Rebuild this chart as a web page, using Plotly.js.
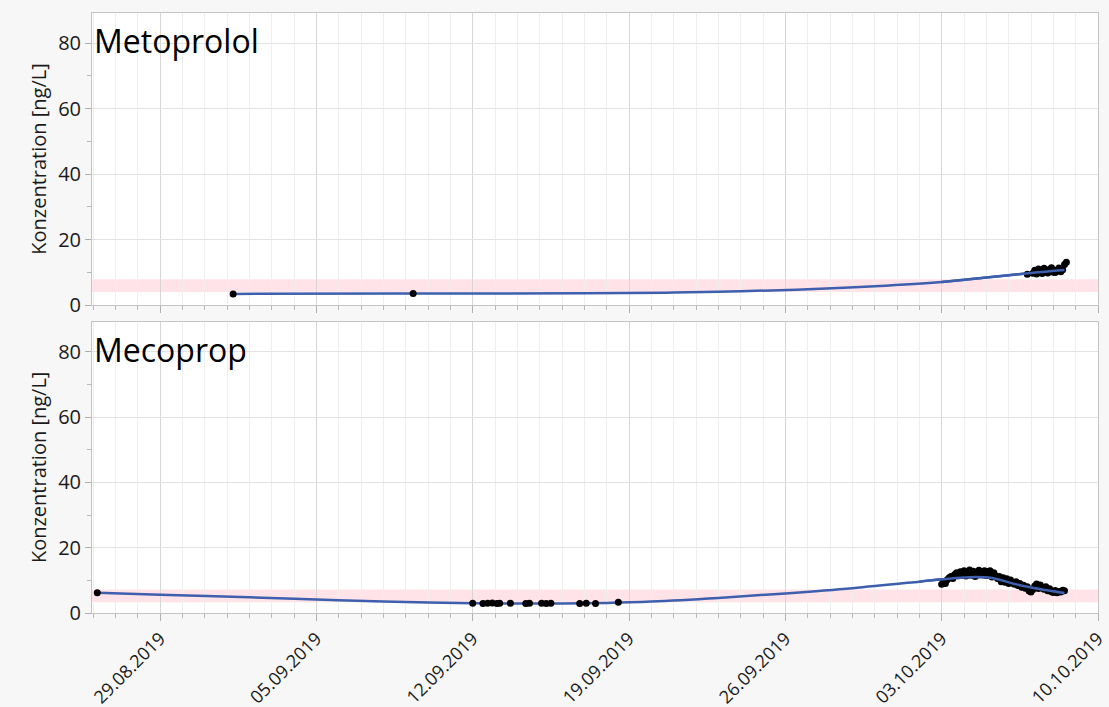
<!DOCTYPE html>
<html>
<head>
<meta charset="utf-8">
<script src="https://cdn.plot.ly/plotly-3.0.1.min.js"></script>
<style>
html,body{margin:0;padding:0;background:#f7f7f7;}
#chart{width:1109px;height:707px;}
</style>
</head>
<body>
<div id="chart"></div>
<script>
// ---------- Data ----------
const substances = ["Metoprolol", "Mecoprop"];
const yLabel = "Konzentration [ng/L]";

// Metoprolol: single samples
const metoSingleDates = ["2019-09-01 06:30", "2019-09-09 08:00", "2019-10-06 20:00"];
const metoSingleValues = [3.4, 3.5, 9.4];
// Metoprolol: dense sampling (every 2 h from 2019-10-07 02:00)
const metoDenseStart = "2019-10-07 02:00";
const metoDenseValues = [9.7, 10.6, 9.5, 11.0, 10.1, 9.6, 11.2, 10.3, 9.8, 10.9, 11.4, 10.0, 9.9, 10.7, 11.3, 10.2, 10.8, 12.4, 13.1];
// Metoprolol fit line
const metoFitDates = ["2019-09-01 06:30", "2019-09-09", "2019-09-17", "2019-09-21", "2019-09-24", "2019-09-27", "2019-09-30", "2019-10-03", "2019-10-05", "2019-10-07", "2019-10-08 12:00"];
const metoFitValues = [3.4, 3.5, 3.6, 3.8, 4.2, 4.8, 5.7, 7.0, 8.4, 9.8, 10.7];

// Mecoprop: single samples
const mecoSingleDates = ["2019-08-26 04:30", "2019-09-12 00:00", "2019-09-12 11:00", "2019-09-12 16:00", "2019-09-12 21:00", "2019-09-13 02:00", "2019-09-13 05:00", "2019-09-13 16:30", "2019-09-14 09:00", "2019-09-14 13:00", "2019-09-15 02:00", "2019-09-15 07:00", "2019-09-15 12:00", "2019-09-16 19:00", "2019-09-17 02:00", "2019-09-17 12:00", "2019-09-18 12:30"];
const mecoSingleValues = [6.2, 3.0, 2.9, 3.0, 3.1, 2.9, 3.0, 3.0, 2.9, 3.0, 3.0, 2.9, 3.0, 2.9, 3.0, 2.9, 3.3];
// Mecoprop: dense sampling (every 2 h from 2019-10-03 00:00)
const mecoDenseStart = "2019-10-03 00:00";
const mecoDenseValues = [
  8.8, 9.4, 9.0, 10.2, 10.8, 11.2, 10.6, 11.8, 12.3, 11.4, 12.6, 11.7,
  12.9, 11.3, 12.4, 13.2, 11.6, 12.8, 11.2, 12.5, 13.1, 11.8, 12.2, 12.9,
  11.5, 12.7, 12.9, 11.0, 12.3, 11.4, 10.6, 11.2, 9.6, 10.8, 9.4, 10.5,
  9.0, 10.1, 9.3, 8.8, 9.6, 8.4, 9.0, 7.9, 8.5, 7.6, 8.0, 6.7,
  6.4, 7.2, 8.3, 8.9, 7.5, 8.6, 7.8, 7.3, 8.0, 6.8, 7.4, 6.5,
  6.3, 6.9, 6.2, 6.6, 6.4, 7.0, 6.8
];
// Mecoprop fit line
const mecoFitDates = ["2019-08-26 04:30", "2019-08-29", "2019-09-02", "2019-09-05", "2019-09-08", "2019-09-12", "2019-09-15", "2019-09-18", "2019-09-20", "2019-09-23", "2019-09-26", "2019-09-29", "2019-10-02", "2019-10-03", "2019-10-04 12:00", "2019-10-05 06:00", "2019-10-06 12:00", "2019-10-08 12:00"];
const mecoFitValues = [6.2, 5.6, 4.8, 4.1, 3.5, 3.0, 2.9, 3.1, 3.5, 4.6, 6.0, 7.6, 9.6, 10.3, 11.0, 10.7, 8.5, 6.1];

// Reference bands [low, high]
const metoBand = [4.0, 7.9];
const mecoBand = [3.3, 7.2];

const xRange = ["2019-08-25 22:51", "2019-10-10 00:00"];
const yRange = [0, 89.2];

// ---------- Styles ----------
const FONT = "Open Sans, Noto Sans, sans-serif";
const lineColor = "#3d5fad";
const ptStyle = {color: "#000000", size: 7};
const TWO_H = 2 * 3600 * 1000;

const traces = [
  {x: metoFitDates, y: metoFitValues, xaxis: "x", yaxis: "y", mode: "lines", line: {color: lineColor, width: 2.5, shape: "spline"}, hoverinfo: "skip"},
  {x: metoSingleDates, y: metoSingleValues, xaxis: "x", yaxis: "y", mode: "markers", marker: ptStyle},
  {x0: metoDenseStart, dx: TWO_H, y: metoDenseValues, xaxis: "x", yaxis: "y", mode: "markers", marker: ptStyle},
  {x: mecoFitDates, y: mecoFitValues, xaxis: "x2", yaxis: "y2", mode: "lines", line: {color: lineColor, width: 2.5, shape: "spline"}, hoverinfo: "skip"},
  {x: mecoSingleDates, y: mecoSingleValues, xaxis: "x2", yaxis: "y2", mode: "markers", marker: ptStyle},
  {x0: mecoDenseStart, dx: TWO_H, y: mecoDenseValues, xaxis: "x2", yaxis: "y2", mode: "markers", marker: ptStyle}
];
// keep fit line visible above the dense markers like the reference
traces.push(Object.assign({}, traces[0], {x: metoFitDates.slice(-4), y: metoFitValues.slice(-4)}));
traces.push(Object.assign({}, traces[3], {x: mecoFitDates.slice(-6), y: mecoFitValues.slice(-6)}));

function xAxis(extra) {
  return Object.assign({
    type: "date",
    range: xRange,
    tick0: "2019-08-29",
    dtick: 7 * 86400000,
    tickformat: "%d.%m.%Y",
    tickangle: -45,
    ticks: "outside",
    ticklen: 7,
    tickcolor: "#b0b0b0",
    showgrid: true,
    gridcolor: "#d6d6d6",
    gridwidth: 1,
    showline: true,
    linecolor: "#c4c4c4",
    linewidth: 1,
    mirror: true,
    zeroline: false,
    tickfont: {family: FONT, size: 18, color: "#1a1a1a"},
    minor: {dtick: 86400000, tick0: "2019-08-29", ticks: "outside", ticklen: 4, tickcolor: "#b8b8b8", showgrid: true, gridcolor: "#eeeeee", gridwidth: 1}
  }, extra);
}
function yAxis(extra) {
  return Object.assign({
    range: yRange,
    dtick: 20,
    ticks: "outside",
    ticklen: 6,
    tickcolor: "#b0b0b0",
    showgrid: true,
    gridcolor: "#e2e2e2",
    showline: true,
    linecolor: "#c4c4c4",
    mirror: true,
    zeroline: false,
    tickfont: {family: FONT, size: 20, color: "#1a1a1a"},
    title: {text: yLabel, font: {family: FONT, size: 20, color: "#1a1a1a"}, standoff: 6},
    minor: {dtick: 10, ticks: "outside", ticklen: 4, tickcolor: "#b8b8b8", showgrid: false}
  }, extra);
}

const layout = {
  width: 1109,
  height: 707,
  margin: {l: 92, r: 11, t: 13, b: 94},
  paper_bgcolor: "#f7f7f7",
  plot_bgcolor: "#ffffff",
  showlegend: false,
  xaxis: xAxis({anchor: "y", matches: "x2", showticklabels: false}),
  yaxis: yAxis({domain: [0.5133, 1], anchor: "x"}),
  xaxis2: xAxis({anchor: "y2"}),
  yaxis2: yAxis({domain: [0, 0.4855], anchor: "x2"}),
  shapes: [
    {type: "rect", xref: "x domain", x0: 0, x1: 1, yref: "y", y0: metoBand[0], y1: metoBand[1], fillcolor: "#ffe3e8", line: {width: 0}, layer: "below"},
    {type: "rect", xref: "x2 domain", x0: 0, x1: 1, yref: "y2", y0: mecoBand[0], y1: mecoBand[1], fillcolor: "#ffe3e8", line: {width: 0}, layer: "below"}
  ],
  annotations: [
    {text: substances[0], xref: "x domain", yref: "y domain", x: 0, y: 1, xanchor: "left", yanchor: "top", xshift: 0, yshift: -4, showarrow: false, font: {family: FONT, size: 32, color: "#000000"}},
    {text: substances[1], xref: "x2 domain", yref: "y2 domain", x: 0, y: 1, xanchor: "left", yanchor: "top", xshift: 0, yshift: -4, showarrow: false, font: {family: FONT, size: 32, color: "#000000"}}
  ]
};

Plotly.newPlot("chart", traces, layout, {displayModeBar: false, staticPlot: true});
</script>
</body>
</html>
